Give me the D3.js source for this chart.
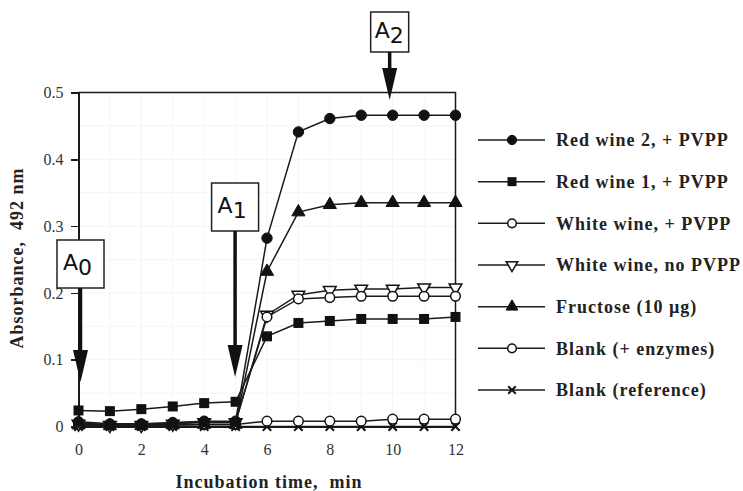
<!DOCTYPE html>
<meta charset='utf-8'>
<head>
  <style>
    body { margin: 0; background: #fff; }
    .tick text { font: 16px 'Liberation Serif', serif; fill: #333; }
    .axis path, .axis line { stroke: #1a1a1a; stroke-width: 1.5; shape-rendering: crispEdges; }
    .title { font: bold 18px 'Liberation Serif', serif; fill: #222; letter-spacing: 1px; white-space: pre; }
    .leg { font: bold 18px 'Liberation Serif', serif; fill: #222; letter-spacing: 1px; }
    .box text { font: 22px 'DejaVu Sans', sans-serif; fill: #111; }
  </style>
</head>
<body>
<script src='https://cdn.jsdelivr.net/npm/d3@7'></script>
<script>

// data
var times = [0, 1, 2, 3, 4, 5, 6, 7, 8, 9, 10, 11, 12];
var redWine2 = [0.007, 0.004, 0.004, 0.006, 0.008, 0.008, 0.282, 0.441, 0.461, 0.466, 0.466, 0.466, 0.466];
var redWine1 = [0.024, 0.023, 0.026, 0.030, 0.035, 0.037, 0.135, 0.155, 0.158, 0.161, 0.161, 0.161, 0.164];
var whitePVPP = [0.005, 0.003, 0.003, 0.005, 0.007, 0.007, 0.164, 0.191, 0.193, 0.195, 0.195, 0.195, 0.195];
var whiteNoPVPP = [0.004, 0.002, 0.002, 0.004, 0.006, 0.006, 0.167, 0.197, 0.204, 0.206, 0.206, 0.208, 0.208];
var fructose = [0.002, 0.001, 0.001, 0.002, 0.003, 0.003, 0.232, 0.321, 0.332, 0.335, 0.335, 0.335, 0.335];
var blankEnz = [0.003, 0.002, 0.002, 0.003, 0.003, 0.003, 0.008, 0.008, 0.008, 0.008, 0.011, 0.011, 0.011];
var blankRef = [0, 0, 0, 0, 0, 0, 0, 0, 0, 0, 0, 0, 0];

var seriesNames = ['Red wine 2, + PVPP', 'Red wine 1, + PVPP', 'White wine, + PVPP',
  'White wine, no PVPP', 'Fructose (10 \u00b5g)', 'Blank (+ enzymes)', 'Blank (reference)'];
var seriesValues = [redWine2, redWine1, whitePVPP, whiteNoPVPP, fructose, blankEnz, blankRef];
var seriesMarks = ['dot', 'square', 'ring', 'tridown', 'triup', 'ring', 'cross'];

var xTicks = [0, 2, 4, 6, 8, 10, 12];
var yTicks = [0, 0.1, 0.2, 0.3, 0.4, 0.5];

// annotations: subscript and the time each arrow points at
var annoSub = ['0', '1', '2'];
var annoTime = [0, 5, 10];

var W = 743, H = 491;
var x = d3.scaleLinear().domain([0, 12]).range([78.5, 455.5]);
var y = d3.scaleLinear().domain([0, 0.5]).range([426.5, 92.5]);

var svg = d3.select('body').append('svg')
    .attr('width', W)
    .attr('height', H);

// faint grid
svg.append('g').selectAll('line')
    .data(d3.range(1, 12))
  .enter().append('line')
    .attr('x1', d => x(d)).attr('x2', d => x(d))
    .attr('y1', y(0)).attr('y2', y(0.5))
    .attr('stroke', '#f5f5f5');
svg.append('g').selectAll('line')
    .data(d3.range(1, 10).map(d => d * 0.05))
  .enter().append('line')
    .attr('x1', x(0)).attr('x2', x(12))
    .attr('y1', d => y(d)).attr('y2', d => y(d))
    .attr('stroke', '#f5f5f5');

// frame: top and right edges
svg.append('path')
    .attr('d', 'M' + x(0) + ',' + y(0.5) + 'H' + x(12) + 'V' + y(0))
    .attr('fill', 'none').attr('stroke', '#1a1a1a').attr('stroke-width', 1.5);

svg.append('g')
    .attr('class', 'axis')
    .attr('transform', 'translate(' + x(0) + ',0)')
    .call(d3.axisLeft(y).tickValues(yTicks).tickSize(8).tickSizeOuter(0)
      .tickFormat(d => d === 0 ? '0' : d3.format('.1f')(d)))
    .call(g => g.selectAll('.tick text').attr('x', -15));

svg.append('g')
    .attr('class', 'axis')
    .attr('transform', 'translate(0,' + y(0) + ')')
    .call(d3.axisBottom(x).tickValues(xTicks).tickSize(0).tickSizeOuter(0).tickPadding(17));

svg.append('text')
    .attr('class', 'title')
    .attr('text-anchor', 'middle')
    .attr('transform', 'translate(23,' + 258 + ') rotate(-90)')
    .text('Absorbance,  492 nm');

svg.append('text')
    .attr('class', 'title')
    .attr('text-anchor', 'middle')
    .attr('x', 269)
    .attr('y', 488)
    .text('Incubation time,  min');

var line = d3.line()
    .x((d, i) => x(times[i]))
    .y(d => y(d));

function marker(g, type, size) {
  var s = size;
  if (type === 'dot') {
    g.append('circle').attr('r', s * 0.52).attr('fill', '#111').attr('stroke', '#111');
  } else if (type === 'ring') {
    g.append('circle').attr('r', s * 0.48).attr('fill', '#fff').attr('stroke', '#111').attr('stroke-width', 1.5);
  } else if (type === 'square') {
    g.append('rect').attr('x', -s / 2).attr('y', -s / 2).attr('width', s).attr('height', s).attr('fill', '#111');
  } else if (type === 'triup') {
    g.append('path').attr('d', d3.symbol(d3.symbolTriangle, s * s * 0.75)).attr('fill', '#111')
      .attr('stroke', '#111');
  } else if (type === 'tridown') {
    g.append('path').attr('d', d3.symbol(d3.symbolTriangle, s * s * 0.7)).attr('transform', 'rotate(180)')
      .attr('fill', '#fff').attr('stroke', '#111').attr('stroke-width', 1.5);
  } else if (type === 'cross') {
    var c = s * 0.42;
    g.append('path').attr('d', 'M' + -c + ',' + -c + 'L' + c + ',' + c + 'M' + -c + ',' + c + 'L' + c + ',' + -c)
      .attr('stroke', '#111').attr('stroke-width', 2);
  }
}

// draw series from back to front
var order = [6, 5, 4, 3, 2, 1, 0];
order.forEach(k => {
  var vals = seriesValues[k];
  var g = svg.append('g');
  g.append('path')
      .datum(vals)
      .attr('d', line)
      .attr('fill', 'none')
      .attr('stroke', '#1a1a1a')
      .attr('stroke-width', 1.5);
  g.selectAll('g.m')
      .data(vals)
    .enter().append('g')
      .attr('class', 'm')
      .attr('transform', (d, i) => 'translate(' + x(times[i]) + ',' + y(d) + ')')
      .each(function () { marker(d3.select(this), seriesMarks[k], 10); });
});

// legend
var legY = d3.scalePoint().domain(seriesNames).range([140, 390]);
var leg = svg.append('g').selectAll('g')
    .data(seriesNames)
  .enter().append('g')
    .attr('transform', d => 'translate(0,' + legY(d) + ')');
leg.append('line')
    .attr('x1', 478).attr('x2', 545)
    .attr('stroke', '#1a1a1a').attr('stroke-width', 1.5);
leg.append('g')
    .attr('transform', 'translate(512,0)')
    .each(function (d, i) { marker(d3.select(this), seriesMarks[i], 9); });
leg.append('text')
    .attr('class', 'leg')
    .attr('x', 556)
    .attr('dy', '0.35em')
    .text(d => d);

// A0, A1, A2 boxes with arrows
var boxTop = [240, 183, 12];
var tipY = [382, 377, 100];
annoTime.forEach((t, i) => {
  var cx = x(t) + (i === 0 ? 2 : i === 1 ? -0.5 : -3);
  var bw = i === 2 ? 38 : 47, bh = i === 2 ? 40 : 48;
  var g = svg.append('g').attr('class', 'box');
  g.append('rect')
      .attr('x', cx - bw / 2).attr('y', boxTop[i])
      .attr('width', bw).attr('height', bh)
      .attr('fill', '#fff').attr('stroke', '#222').attr('stroke-width', 1.5);
  var txt = g.append('text')
      .attr('x', cx - bw / 2 + (i === 2 ? 4 : 6))
      .attr('y', boxTop[i] + bh / 2 + 6);
  txt.append('tspan').text('A');
  txt.append('tspan').attr('dy', 5).text(annoSub[i]);
  var headLen = 32, headW = 15;
  g.append('line')
      .attr('x1', cx).attr('x2', cx)
      .attr('y1', boxTop[i] + bh).attr('y2', tipY[i] - headLen + 2)
      .attr('stroke', '#111').attr('stroke-width', 3.5);
  g.append('path')
      .attr('d', 'M' + (cx - headW / 2) + ',' + (tipY[i] - headLen) + 'L' + (cx + headW / 2) + ',' +
        (tipY[i] - headLen) + 'L' + cx + ',' + tipY[i] + 'Z')
      .attr('fill', '#111');
});

</script>
</body>
